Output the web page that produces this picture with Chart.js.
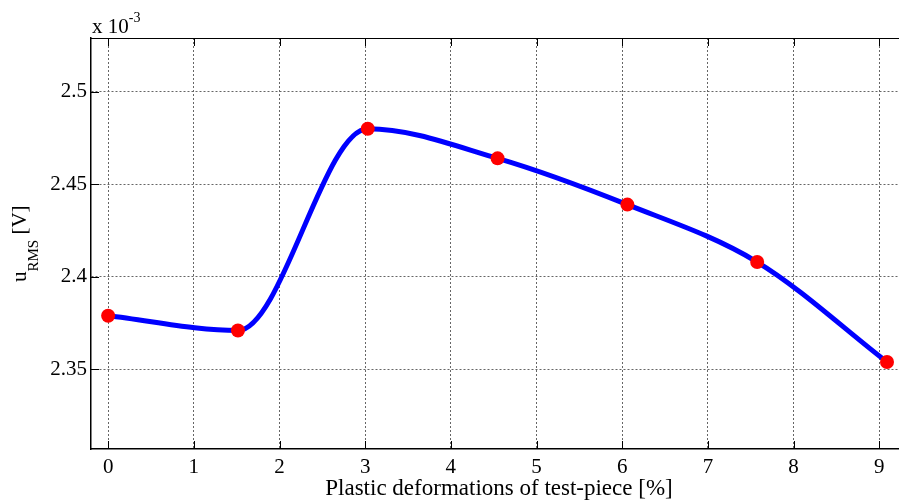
<!DOCTYPE html>
<html>
<head>
<meta charset="utf-8">
<style>
  html, body { margin: 0; padding: 0; background: #fff; overflow: hidden; }
  #wrap { width: 899px; height: 502px; }
</style>
<script src="https://cdn.jsdelivr.net/npm/chart.js@4.4.0/dist/chart.umd.min.js"></script>
</head>
<body>
<div id="wrap"><canvas id="rms-chart" width="899" height="502"></canvas></div>
<script>
// data (u_RMS in units of 1e-3 V)
var deformation = [0, 1.515, 3.03, 4.545, 6.06, 7.575, 9.09];
var uRms = [2.379, 2.371, 2.480, 2.464, 2.439, 2.408, 2.354];
var xTicks = [0, 1, 2, 3, 4, 5, 6, 7, 8, 9];
var yTicks = [2.35, 2.4, 2.45, 2.5];

var serif = "'Liberation Serif', 'Times New Roman', serif";

var points = deformation.map(function (x, i) { return { x: x, y: uRms[i] }; });

// frame, inward ticks and the labels with sub/superscripts
var matlabBits = {
  id: 'matlabBits',
  afterDraw: function (chart) {
    var c = chart.ctx, a = chart.chartArea;
    var xs = chart.scales.x, ys = chart.scales.y;
    c.save();
    c.strokeStyle = '#000';
    c.lineWidth = 1;
    c.setLineDash([]);
    c.beginPath();
    c.moveTo(a.left, a.top + 0.5);
    c.lineTo(a.right, a.top + 0.5);
    xTicks.forEach(function (t) {
      var px = Math.round(xs.getPixelForValue(t)) + 0.5;
      c.moveTo(px, a.bottom); c.lineTo(px, a.bottom - 8);
      c.moveTo(px, a.top); c.lineTo(px, a.top + 8);
    });
    yTicks.forEach(function (t) {
      var py = Math.round(ys.getPixelForValue(t)) + 0.5;
      c.moveTo(a.left, py); c.lineTo(a.left + 8, py);
    });
    c.stroke();

    c.fillStyle = '#000';
    c.textBaseline = 'alphabetic';
    c.textAlign = 'left';
    // exponent label
    c.font = '21px ' + serif;
    c.fillText('x 10', 92, 33);
    var w = c.measureText('x 10').width;
    c.font = '14px ' + serif;
    c.fillText('-3', 92 + w, 22);

    // x title
    c.textAlign = 'center';
    c.font = '23px ' + serif;
    c.fillText('Plastic deformations of test-piece [%]', 499, 495);

    // y title
    c.translate(26, 282);
    c.rotate(-Math.PI / 2);
    c.textAlign = 'left';
    c.font = '21px ' + serif;
    c.fillText('u', 0, 0);
    var wu = c.measureText('u').width;
    c.font = '15px ' + serif;
    c.fillText('RMS', wu, 12);
    var ws = c.measureText('RMS').width;
    c.font = '21px ' + serif;
    c.fillText(' [V]', wu + ws, 0);
    c.restore();
  }
};

var ctx = document.getElementById('rms-chart').getContext('2d');

var myChart = new Chart(ctx, {
  type: 'line',
  data: {
    datasets: [{
      data: points,
      borderColor: '#0000ff',
      borderWidth: 5,
      cubicInterpolationMode: 'monotone',
      pointRadius: 7,
      pointBackgroundColor: '#ff0000',
      pointBorderColor: '#ff0000',
      pointBorderWidth: 0,
      fill: false
    }]
  },
  options: {
    responsive: false,
    animation: false,
    layout: { autoPadding: false, padding: { top: 38, right: 0, left: 0, bottom: 0 } },
    plugins: {
      legend: { display: false },
      tooltip: { enabled: false }
    },
    scales: {
      x: {
        type: 'linear',
        min: -0.2,
        max: 9.23,
        afterFit: function (s) { s.height = 53; },
        afterBuildTicks: function (s) { s.ticks = xTicks.map(function (v) { return { value: v }; }); },
        grid: {
          color: '#666',
          lineWidth: 1,
          drawTicks: false
        },
        border: { display: true, color: '#000', width: 1.5, dash: [2, 2] },
        ticks: {
          padding: 6,
          color: '#000',
          font: { family: serif, size: 21 },
          callback: function (v) { return String(v); }
        }
      },
      y: {
        type: 'linear',
        min: 2.307,
        max: 2.529,
        afterFit: function (s) { s.width = 91; },
        afterBuildTicks: function (s) { s.ticks = yTicks.map(function (v) { return { value: v }; }); },
        grid: {
          color: '#666',
          lineWidth: 1,
          drawTicks: false
        },
        border: { display: true, color: '#000', width: 1.5, dash: [2, 2] },
        ticks: {
          padding: 4,
          color: '#000',
          font: { family: serif, size: 21 },
          callback: function (v) { return String(Number(v.toFixed(2))); }
        }
      }
    }
  },
  plugins: [matlabBits]
});
</script>
</body>
</html>
